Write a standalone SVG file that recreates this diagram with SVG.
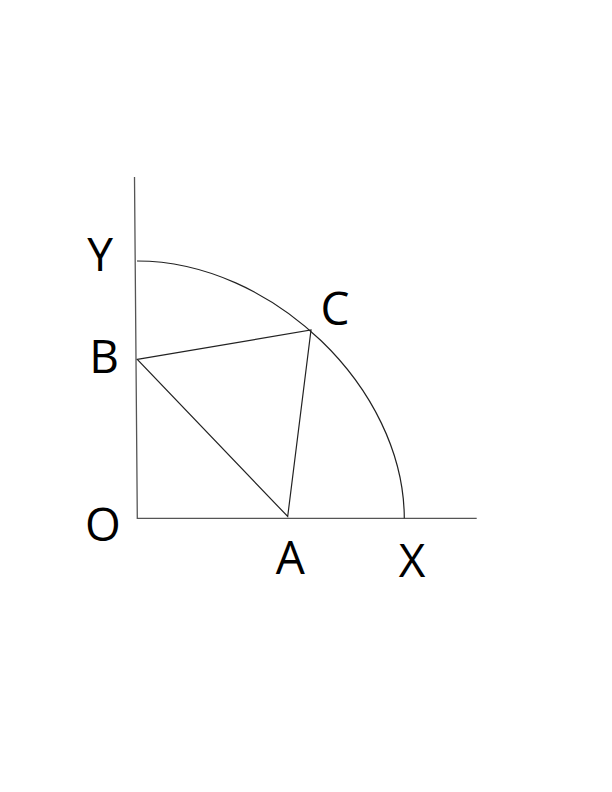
<svg xmlns="http://www.w3.org/2000/svg" width="612" height="792" viewBox="0 0 612 792">
<style>
.ln{fill:none;stroke:#222;stroke-width:1.2}
.ax{fill:none;stroke:#555;stroke-width:1.3}
.lb{font-family:"Open Sans","Liberation Sans",sans-serif;font-size:46px;fill:#000;text-anchor:middle}
</style>
<rect width="612" height="792" fill="#fff"/>
<g id="connectors">
<path class="ax" d="M134.5,177 L137.3,518.3 L476.7,518.3"/>
<path class="ln" d="M137,261 C272,261 404,388 404.3,518.3"/>
<path class="ln" d="M137.3,359.3 L311,330 L287.7,516.5 Z"/>
</g>
<g id="Y"><text class="lb" x="100" y="271">Y</text></g>
<g id="B"><text class="lb" x="104" y="372.7">B</text></g>
<g id="O"><text class="lb" x="103" y="540.5">O</text></g>
<g id="A"><text class="lb" x="290.3" y="574">A</text></g>
<g id="X"><text class="lb" x="412" y="577">X</text></g>
<g id="C"><text class="lb" x="335" y="325">C</text></g>
</svg>
